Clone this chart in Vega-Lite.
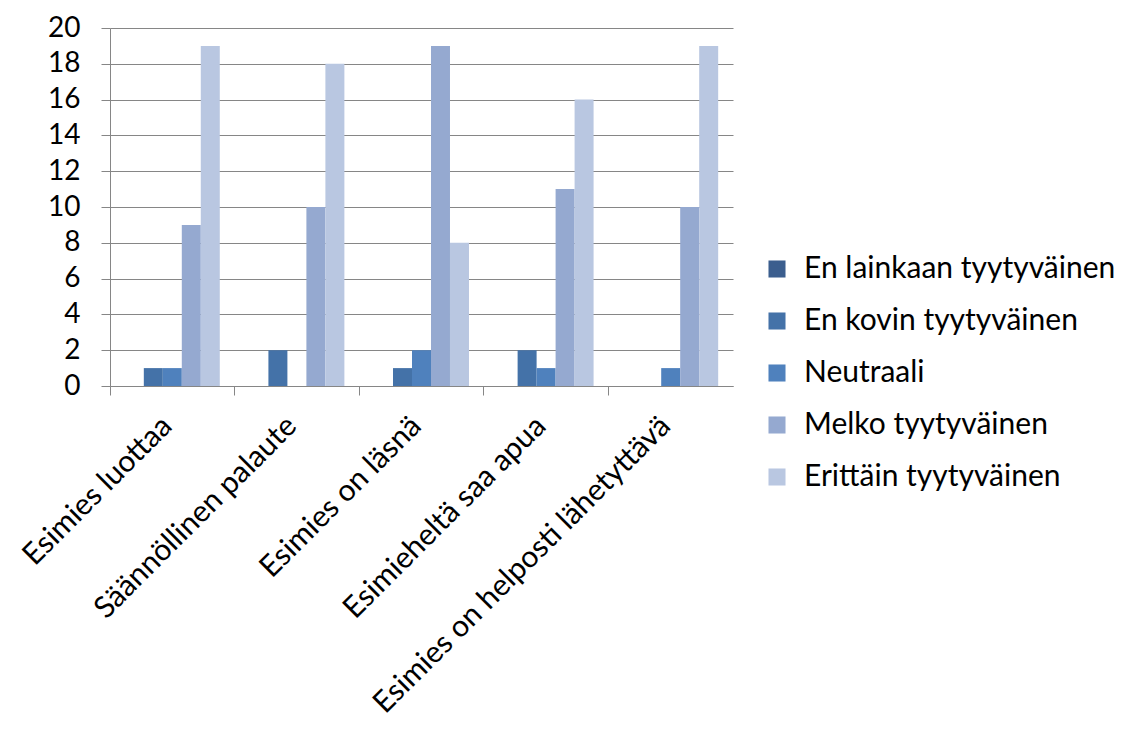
{
  "$schema": "https://vega.github.io/schema/vega-lite/v6.json",
  "width": 623,
  "height": 358,
  "autosize": "none",
  "padding": {"left": 110, "top": 28, "right": 392, "bottom": 343},
  "background": "white",
  "data": {
    "values": [
      {"kohta": "Esimies luottaa", "vastaus": "En lainkaan tyytyväinen", "n": 0},
      {"kohta": "Esimies luottaa", "vastaus": "En kovin tyytyväinen", "n": 1},
      {"kohta": "Esimies luottaa", "vastaus": "Neutraali", "n": 1},
      {"kohta": "Esimies luottaa", "vastaus": "Melko tyytyväinen", "n": 9},
      {"kohta": "Esimies luottaa", "vastaus": "Erittäin tyytyväinen", "n": 19},
      {"kohta": "Säännöllinen palaute", "vastaus": "En lainkaan tyytyväinen", "n": 0},
      {"kohta": "Säännöllinen palaute", "vastaus": "En kovin tyytyväinen", "n": 2},
      {"kohta": "Säännöllinen palaute", "vastaus": "Neutraali", "n": 0},
      {"kohta": "Säännöllinen palaute", "vastaus": "Melko tyytyväinen", "n": 10},
      {"kohta": "Säännöllinen palaute", "vastaus": "Erittäin tyytyväinen", "n": 18},
      {"kohta": "Esimies on läsnä", "vastaus": "En lainkaan tyytyväinen", "n": 0},
      {"kohta": "Esimies on läsnä", "vastaus": "En kovin tyytyväinen", "n": 1},
      {"kohta": "Esimies on läsnä", "vastaus": "Neutraali", "n": 2},
      {"kohta": "Esimies on läsnä", "vastaus": "Melko tyytyväinen", "n": 19},
      {"kohta": "Esimies on läsnä", "vastaus": "Erittäin tyytyväinen", "n": 8},
      {"kohta": "Esimieheltä saa apua", "vastaus": "En lainkaan tyytyväinen", "n": 0},
      {"kohta": "Esimieheltä saa apua", "vastaus": "En kovin tyytyväinen", "n": 2},
      {"kohta": "Esimieheltä saa apua", "vastaus": "Neutraali", "n": 1},
      {"kohta": "Esimieheltä saa apua", "vastaus": "Melko tyytyväinen", "n": 11},
      {"kohta": "Esimieheltä saa apua", "vastaus": "Erittäin tyytyväinen", "n": 16},
      {"kohta": "Esimies on helposti lähetyttävä", "vastaus": "En lainkaan tyytyväinen", "n": 0},
      {"kohta": "Esimies on helposti lähetyttävä", "vastaus": "En kovin tyytyväinen", "n": 0},
      {"kohta": "Esimies on helposti lähetyttävä", "vastaus": "Neutraali", "n": 1},
      {"kohta": "Esimies on helposti lähetyttävä", "vastaus": "Melko tyytyväinen", "n": 10},
      {"kohta": "Esimies on helposti lähetyttävä", "vastaus": "Erittäin tyytyväinen", "n": 19}
    ]
  },
  "mark": {"type": "bar", "strokeWidth": 0},
  "encoding": {
    "x": {
      "field": "kohta",
      "type": "nominal",
      "sort": null,
      "title": null,
      "scale": {"paddingInner": 0, "paddingOuter": 0},
      "axis": {
        "labelAngle": -45,
        "labelAlign": "right",
        "labelBaseline": "middle",
        "labelFont": "Lato",
        "labelFontSize": 30,
        "labelColor": "black",
        "labelPadding": 26,
        "labelLimit": 600,
        "labelOverlap": false,
        "bandPosition": 0,
        "labelOffset": -5,
        "tickColor": "#868686",
        "tickSize": 9,
        "domainColor": "#868686",
        "grid": false
      }
    },
    "xOffset": {
      "field": "vastaus",
      "type": "nominal",
      "sort": null,
      "scale": {"paddingInner": 0, "paddingOuter": 0.78}
    },
    "y": {
      "field": "n",
      "type": "quantitative",
      "title": null,
      "scale": {"domain": [0, 20], "nice": false},
      "axis": {
        "values": [0, 2, 4, 6, 8, 10, 12, 14, 16, 18, 20],
        "labelFont": "Lato",
        "labelFontSize": 28,
        "labelColor": "black",
        "labelPadding": 21,
        "tickColor": "#868686",
        "tickSize": 9,
        "domainColor": "#868686",
        "gridColor": "#868686",
        "gridWidth": 1
      }
    },
    "color": {
      "field": "vastaus",
      "type": "nominal",
      "sort": null,
      "title": null,
      "scale": {
        "domain": ["En lainkaan tyytyväinen", "En kovin tyytyväinen", "Neutraali", "Melko tyytyväinen", "Erittäin tyytyväinen"],
        "range": ["#3B5E8E", "#4472A8", "#4F81BD", "#95A9D0", "#B9C7E1"]
      },
      "legend": {
        "orient": "none",
        "legendX": 652,
        "legendY": 226,
        "symbolType": "square",
        "symbolSize": 290,
        "symbolStrokeWidth": 0,
        "symbolOpacity": 1,
        "labelFont": "Lato",
        "labelFontSize": 30,
        "labelColor": "black",
        "labelOffset": 12,
        "rowPadding": 22,
        "labelLimit": 400
      }
    }
  },
  "config": {"view": {"stroke": null}, "axis": {"domainWidth": 1}}
}
